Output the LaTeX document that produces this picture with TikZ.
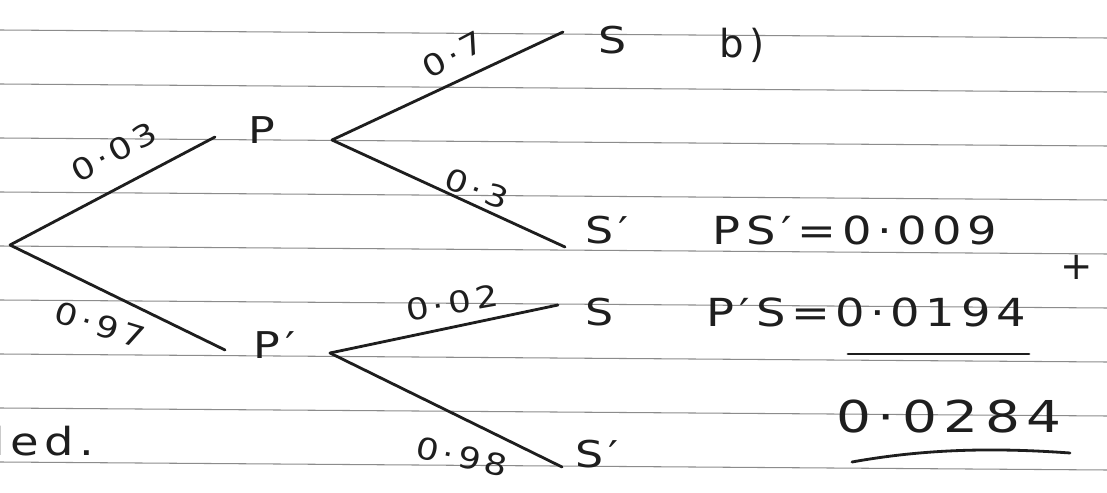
\documentclass[tikz,border=0pt]{standalone}
\usepackage{fontspec}
\usepackage{graphicx}
\setmainfont{DejaVu Sans}[LetterSpace=12]
\definecolor{inkc}{HTML}{1E1E1E}
\definecolor{rulec}{HTML}{8C8C8C}
\newcommand\hw[2][1.2]{\scalebox{#1}[1]{#2}}
\begin{document}
\begin{tikzpicture}[x=0.02cm,y=-0.02cm,
  ink/.style={line width=1.6pt, draw=inkc, line cap=round},
  rule/.style={draw=rulec, line width=0.6pt},
  lbl/.style={inner sep=0pt, text=inkc, font=\fontsize{17}{20}\selectfont},
  leaf/.style={inner sep=0pt, text=inkc, font=\fontsize{21}{24}\selectfont},
  eq/.style={inner sep=0pt, text=inkc, font=\fontsize{22}{26}\selectfont}]
\useasboundingbox[fill=white] (0,0) rectangle (1107,493);
% ruled paper
\foreach \k in {0,...,8} \draw[rule] (0,{30+54*\k}) -- (1107,{38+54*\k});
% branch points
\coordinate (root) at (10,245);
\coordinate (Pin) at (215,137);
\coordinate (Pout) at (332,140);
\coordinate (Qin) at (225,350);
\coordinate (Qout) at (330,353);
\coordinate (S1e) at (563,32);
\coordinate (S1pe) at (565,247);
\coordinate (S2e) at (558,305);
\coordinate (S2pe) at (562,467);
% tree letters
\node[leaf] (P) at (262,130) {\hw{P}};
\node[leaf] (Pp) at (275,345) {\hw{P′}};
\node[leaf] (S1) at (613,40) {\hw{S}};
\node[leaf] (S1p) at (607,230) {\hw{S′}};
\node[leaf] (S2) at (600,312) {\hw{S}};
\node[leaf] (S2p) at (597,454) {\hw{S′}};
% branches
\draw[ink] (root) -- (Pin);
\draw[ink] (root) -- (Qin);
\draw[ink] (Pout) -- (S1e);
\draw[ink] (Pout) -- (S1pe);
\draw[ink] (Qout) -- (S2e);
\draw[ink] (Qout) -- (S2pe);
% branch labels
\node[lbl, rotate=28] (l1) at (114,152) {\hw{0·03}};
\node[lbl, rotate=-17] (l2) at (100,325) {\hw{0·97}};
\node[lbl, rotate=28] (l3) at (453,55) {\hw{0·7}};
\node[lbl, rotate=-20] (l4) at (477,189) {\hw{0·3}};
\node[lbl, rotate=10] (l5) at (452,303) {\hw{0·02}};
\node[lbl, rotate=-12] (l6) at (462,457) {\hw{0·98}};
% working
\node[eq] (b) at (742,45) {\hw[1.0]{b)}};
\node[eq] (e1) at (855,230) {\hw{PS′=0·009}};
\node[eq] (e2) at (866,312) {\hw{P′S=0·0194}};
\node[eq] (plus) at (1077,267) {+};
\node[eq, font=\fontsize{25}{28}\selectfont] (e3) at (949,417) {\hw[1.25]{0·0284}};
\node[eq, anchor=east] (nd) at (95,441) {\hw{nded.}};
\coordinate (u1) at (848,354);
\coordinate (u2) at (1029,354);
\coordinate (v1) at (852,462);
\coordinate (v2) at (1070,453);
\draw[ink] (u1) -- (u2);
\draw[ink] (v1) .. controls (930,448) and (1000,448) .. (v2);
\end{tikzpicture}
\end{document}
